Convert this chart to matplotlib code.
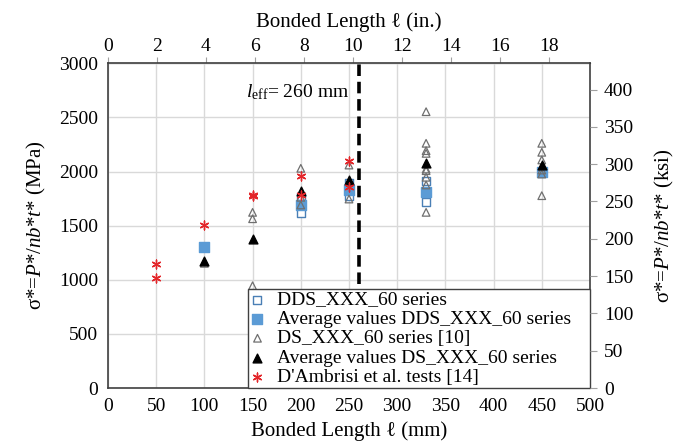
import numpy as np
import matplotlib
matplotlib.use("Agg")
import matplotlib.pyplot as plt

# bond strength vs bonded length, lengths in mm, stresses in MPa
MPA_PER_KSI = 6.894757
MM_PER_IN = 25.4
L_EFF = 260

# DDS_XXX_60 single tests
dds_len = [200, 200, 200, 250, 250, 330, 330]
dds_val = [1762, 1697, 1614, 1897, 1777, 1910, 1716]
# DDS_XXX_60 averages
dds_avg_len = [100, 200, 250, 330, 450]
dds_avg_val = [1306, 1691, 1829, 1814, 1995]

# DS_XXX_60 single tests [10]
ds_len = [100, 150, 150, 150, 200, 200, 200, 250, 250,
          330, 330, 330, 330, 330, 330, 330, 330, 330,
          450, 450, 450, 450, 450, 450]
ds_val = [1152, 1623, 1564, 945, 2030, 1762, 1691, 2060, 1746,
          2553, 2261, 2193, 2168, 2023, 2008, 1947, 1876, 1623,
          2261, 2178, 2107, 2014, 1977, 1777]
# DS_XXX_60 averages
ds_avg_len = [100, 150, 200, 250, 330, 450]
ds_avg_val = [1173, 1380, 1823, 1922, 2076, 2060]

# D'Ambrisi et al. tests [14]
damb_len = [50, 50, 100, 150, 150, 200, 200, 250, 250]
damb_val = [1146, 1019, 1506, 1774, 1780, 1962, 1783, 2097, 1860]

serif = ['Liberation Serif', 'DejaVu Serif']
plt.rcParams['font.family'] = serif
plt.rcParams['mathtext.fontset'] = 'custom'
plt.rcParams['mathtext.rm'] = 'Liberation Serif'
plt.rcParams['mathtext.it'] = 'Liberation Serif:italic'
plt.rcParams['font.size'] = 14

fig = plt.figure(figsize=(6.94, 4.44), dpi=100)
ax = fig.add_axes([0.1556, 0.1261, 0.6945, 0.7313])

ax.scatter(dds_len, dds_val, marker='s', s=36, facecolors='white',
           edgecolors='#4a7fb5', linewidths=1.0, zorder=3,
           label='DDS_XXX_60 series')
ax.scatter(dds_avg_len, dds_avg_val, marker='s', s=58, color='#5b9bd5',
           zorder=3, label='Average values DDS_XXX_60 series')
ax.scatter(ds_len, ds_val, marker='^', s=30, facecolors='none',
           edgecolors='#6f6f6f', linewidths=0.9, zorder=4,
           label='DS_XXX_60 series [10]')
ax.scatter(ds_avg_len, ds_avg_val, marker='^', s=40, color='black',
           zorder=4, label='Average values DS_XXX_60 series')
ax.scatter(damb_len, damb_val, marker=(6, 2, 0), s=40, color='#e3262a',
           linewidths=1.0, zorder=5, label="D'Ambrisi et al. tests [14]")

# effective bond length
ax.plot([L_EFF, L_EFF], [0, 3000], color='black', lw=2.6,
        dashes=(3.2, 1.6), zorder=2)
ax.text(250, 2735, r'$l_{\rm eff}$= 260 mm', ha='right', va='center',
        fontsize=14)

ax.set_xlim(0, 500)
ax.set_ylim(0, 3000)
ax.set_xticks(np.arange(0, 501, 50))
ax.set_yticks(np.arange(0, 3001, 500))
ax.grid(True, color='#d9d9d9', lw=1.0)
ax.set_axisbelow(True)
ax.tick_params(axis='both', length=0, pad=7, labelsize=14)
for lab in ax.get_xticklabels() + ax.get_yticklabels():
    lab.set_family(serif)
for sp in ax.spines.values():
    sp.set_color('#404040')
    sp.set_linewidth(1.2)

ax.set_xlabel('Bonded Length ℓ (mm)', fontsize=15, labelpad=5)
ax.set_ylabel('σ*=$P$*/$nb$*$t$* (MPa)', fontsize=15, labelpad=8)

# inches on top
top = ax.secondary_xaxis('top', functions=(lambda x: x / MM_PER_IN,
                                           lambda x: x * MM_PER_IN))
top.set_xticks(np.arange(0, 19, 2))
top.tick_params(length=4, width=0.8, color='#a0a0a0', pad=2, labelsize=14)
top.set_xlabel('Bonded Length ℓ (in.)', fontsize=15, labelpad=8)

# ksi on the right
rax = ax.twinx()
rax.set_ylim(0, 3000 / MPA_PER_KSI)
rax.set_yticks(np.arange(0, 401, 50))
rax.tick_params(length=5, width=0.8, color='#a0a0a0', pad=5, labelsize=14)
for sp in rax.spines.values():
    sp.set_visible(False)
rax.set_ylabel('σ*=$P$*/$nb$*$t$* (ksi)', fontsize=15, labelpad=14)

leg = ax.legend(loc='lower left', bbox_to_anchor=(0.29, 0.0, 0.71, 0.31),
                mode='expand', borderaxespad=0, fontsize=14, frameon=True,
                fancybox=False, framealpha=1, edgecolor='#404040',
                handlelength=0.8, handletextpad=0.6, labelspacing=0.09,
                borderpad=0.1, scatterpoints=1)
leg.get_frame().set_linewidth(1.0)
leg.set_zorder(10)

fig.savefig('out.png', dpi=100)
